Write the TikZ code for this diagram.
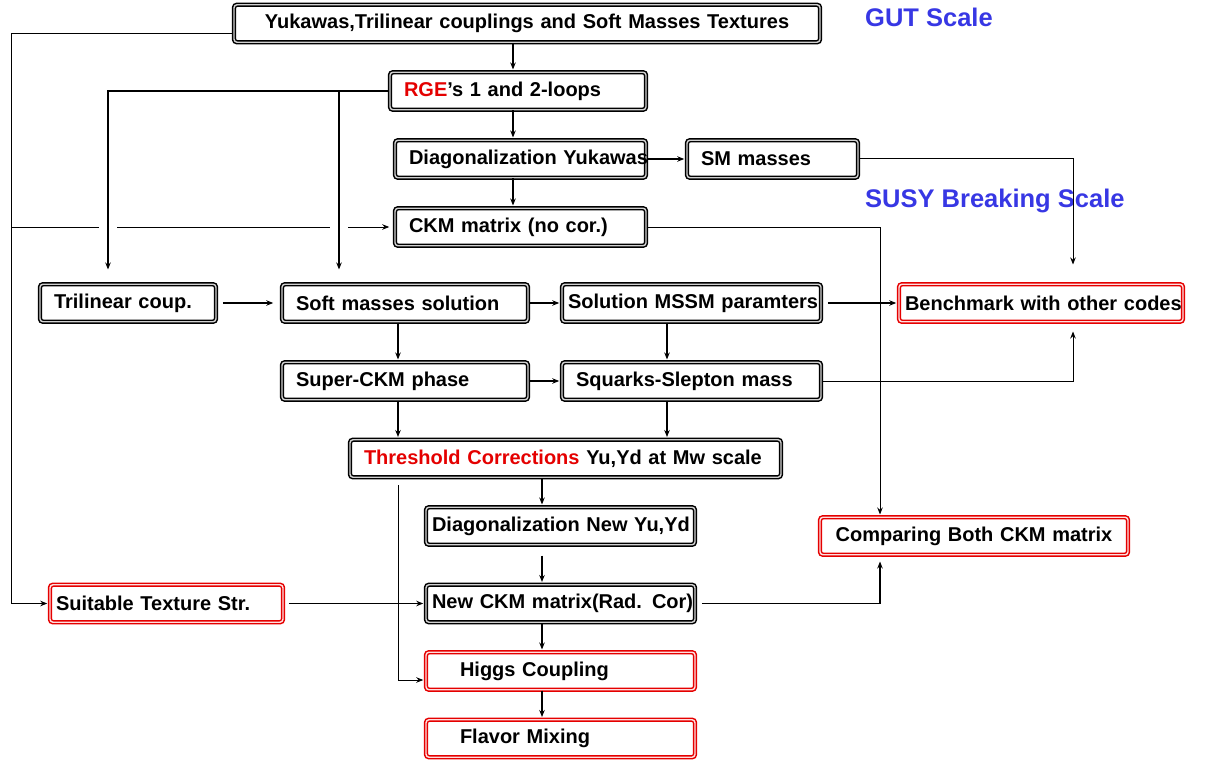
\documentclass[tikz,border=0pt]{standalone}
\usepackage{fontspec}
\setmainfont{Liberation Sans}
\usetikzlibrary{arrows.meta,calc,positioning}
\definecolor{hotred}{RGB}{228,0,0}
\definecolor{scaleblue}{RGB}{55,55,228}
\tikzset{
  blk/.style={draw=black, double=black!18, line width=1.5pt, double distance=1.4pt,
    rounded corners=3pt, minimum height=37.5pt, inner xsep=14pt, inner ysep=0pt,
    align=left, font=\fontsize{20}{24}\selectfont\bfseries},
  redbox/.style={blk, draw=red!90!black, double=red!12},
  link/.style={-{Stealth[length=7pt,width=5.5pt]}, line width=1.2pt, shorten >=2pt},
  thin/.style={line width=0.8pt},
  scalelbl/.style={text=scaleblue, font=\fontsize{25.5}{30}\selectfont\bfseries, inner sep=0pt, anchor=west}
}
\begin{document}
\begin{tikzpicture}[x=1pt,y=-1pt]
  \useasboundingbox (0,0) rectangle (1207,762);

  \node[blk, text width=558, align=center] (top) at (527,23.5) {Yukawas,Trilinear couplings and Soft Masses Textures};
  \node[blk, text width=228] (rge) at (518,91) {\textcolor{hotred}{RGE}'s 1 and 2-loops};
  \node[blk, text width=223] (diag) at (520.5,159) {\mbox{Diagonalization Yukawas}};
  \node[blk, text width=143] (sm) at (772.5,159) {SM masses};
  \node[blk, text width=223] (ckm) at (520.5,227) {CKM matrix (no cor.)};
  \node[blk, text width=148] (tri) at (128,303) {Trilinear coup.};
  \node[blk, text width=218] (soft) at (405,303) {Soft masses solution};
  \node[blk, inner xsep=6pt, text width=247] (sol) at (691.5,303) {\mbox{Solution MSSM paramters}};
  \node[redbox, inner xsep=6pt, text width=272] (bench) at (1041,303) {\mbox{Benchmark with other codes}};
  \node[blk, text width=218] (sup) at (405,381) {Super-CKM phase};
  \node[blk, text width=231] (sq) at (691.5,381) {Squarks-Slepton mass};
  \node[blk, text width=403] (thr) at (565.5,458.5) {\mbox{\textcolor{hotred}{Threshold Corrections} Yu,Yd at Mw scale}};
  \node[blk, inner xsep=6pt, text width=257] (dnew) at (560.5,526) {\mbox{Diagonalization New Yu,Yd}};
  \node[redbox, text width=280, align=center] (cmp) at (974,536) {Comparing Both CKM matrix};
  \node[redbox, inner xsep=6pt, text width=221] (suit) at (166.5,603.5) {Suitable Texture Str.};
  \node[blk, inner xsep=6pt, text width=257] (nckm) at (560.5,603.5) {\mbox{New CKM matrix(Rad. Cor)}};
  \node[redbox, text width=241] (higgs) at (560.5,671) {\hspace*{20pt}Higgs Coupling};
  \node[redbox, text width=241] (flav) at (560.5,738.5) {\hspace*{20pt}Flavor Mixing};

  \node[scalelbl] (gut) at (865,17) {GUT Scale};
  \node[scalelbl] (susy) at (865,201) {SUSY Breaking Scale};

  \coordinate (colL) at (11,0);
  \coordinate (colG) at (108,0);
  \coordinate (colH) at (339,0);
  \coordinate (colC) at (398,0);
  \coordinate (colA) at (513,0);
  \coordinate (colB) at (542,0);
  \coordinate (colD) at (667,0);
  \coordinate (colE) at (880,0);
  \coordinate (colF) at (1073,0);

  \draw[link] (colA |- top.south) -- (colA |- rge.north);
  \draw[link] (colA |- rge.south) -- (colA |- diag.north);
  \draw[link] (colA |- diag.south) -- (colA |- ckm.north);
  \draw[link] (diag.east) -- (sm.west);
  \draw[link, line width=1pt] (sm.east) -| ($(colF |- bench.north)+(0,-17)$);
  \draw[link, line width=1pt] (ckm.east) -| (colE |- cmp.north);

  \draw[link] (rge.west) -| ($(colG |- tri.north)+(0,-12)$);
  \draw[link] (colH |- rge.west) -- ($(colH |- soft.north)+(0,-12)$);

  \draw[link, thin] ([yshift=-10pt]top.west) -| (colL |- suit.west) -- (suit.west);
  \draw[thin] (colL |- ckm.west) -- ($(colG |- ckm.west)+(-9,0)$);
  \draw[thin] ($(colG |- ckm.west)+(9,0)$) -- ($(colH |- ckm.west)+(-9,0)$);
  \draw[link, thin, shorten >=5pt] ($(colH |- ckm.west)+(9,0)$) -- (ckm.west);

  \draw[link, shorten <=6pt, shorten >=8pt] (tri.east) -- (soft.west);
  \draw[link] (soft.east) -- (sol.west);
  \draw[link, shorten <=6pt] (sol.east) -- (bench.west);
  \draw[link] (sup.east) -- (sq.west);
  \draw[link, line width=1pt, shorten >=9pt] (sq.east) -| (colF |- bench.south);

  \draw[link] (colC |- soft.south) -- (colC |- sup.north);
  \draw[link] (colD |- sol.south) -- (colD |- sq.north);
  \draw[link] (colC |- sup.south) -- (colC |- thr.north);
  \draw[link] (colD |- sq.south) -- (colD |- thr.north);

  \draw[link] (colB |- thr.south) -- (colB |- dnew.north);
  \draw[link, shorten <=10pt] (colB |- dnew.south) -- (colB |- nckm.north);
  \draw[link] (colB |- nckm.south) -- (colB |- higgs.north);
  \draw[link] (colB |- higgs.south) -- (colB |- flav.north);
  \draw[link, thin] ($(colC |- thr.south)+(0,7)$) |- ([yshift=-9pt]higgs.west);

  \draw[link, shorten <=5pt] (suit.east) -- (nckm.west);
  \draw[link, shorten <=6pt, shorten >=6pt] (nckm.east) -| (colE |- cmp.south);
\end{tikzpicture}
\end{document}
